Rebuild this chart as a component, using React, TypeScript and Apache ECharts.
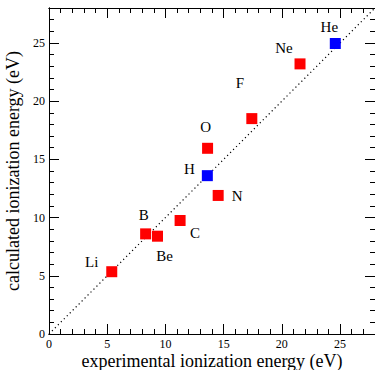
import React, { useEffect, useRef } from "react";
import * as echarts from "echarts";

const elements = ["Li", "B", "Be", "C", "N", "H", "O", "F", "Ne", "He"];
const experimental = [5.39, 8.3, 9.32, 11.26, 14.53, 13.6, 13.62, 17.42, 21.56, 24.59];
const calculated = [5.35, 8.6, 8.4, 9.75, 11.9, 13.6, 15.95, 18.5, 23.2, 24.95];
const markerColors = ["#ff0000", "#ff0000", "#ff0000", "#ff0000", "#ff0000", "#0000ff", "#ff0000", "#ff0000", "#ff0000", "#0000ff"];
const labelOffsets = [[-20, -10], [-2, -19], [7, 20], [15, 13], [19, 1], [-18, -7], [-2, -21], [-12, -36], [-16, -16], [-6, -17]];
const diagonal = [0, 28];
const axisMin = 0;
const axisMax = 28;

const FONT = "Liberation Serif";

function makeAxis(kind: "x" | "y", position: string, interval: number, tickLen: number, labels: boolean, name?: string) {
  const axis: any = {
    type: "value",
    position,
    min: axisMin,
    max: axisMax,
    interval,
    splitLine: { show: false },
    axisLine: { show: true, onZero: false, lineStyle: { color: "#000", width: 1 } },
    axisTick: { show: true, inside: true, length: tickLen, lineStyle: { color: "#000", width: 1 } },
    axisLabel: {
      show: labels,
      color: "#000",
      fontFamily: FONT,
      fontSize: 12,
      margin: 4,
      showMaxLabel: false,
    },
  };
  if (name) {
    axis.name = name;
    axis.nameLocation = "middle";
    axis.nameMoveOverlap = false;
    axis.nameGap = kind === "x" ? 18 : 27;
    axis.nameTextStyle = { color: "#000", fontFamily: FONT, fontSize: 18 };
  }
  return axis;
}

export default function App() {
  const ref = useRef<HTMLDivElement>(null);
  useEffect(() => {
    if (!ref.current) return;
    const chart = echarts.init(ref.current, null, { renderer: "svg" });
    const points = experimental.map((x, i) => ({
      value: [x, calculated[i]],
      name: elements[i],
      itemStyle: { color: markerColors[i], opacity: 1 },
      label: { offset: labelOffsets[i] },
    }));
    chart.setOption({
      animation: false,
      backgroundColor: "#fff",
      grid: { left: 49, right: 0, top: 8, bottom: 36, containLabel: false, outerBoundsMode: "none" },
      xAxis: [
        makeAxis("x", "bottom", 5, 10, true, "experimental ionization energy (eV)"),
        makeAxis("x", "bottom", 1, 5, false),
        makeAxis("x", "top", 5, 10, false),
        makeAxis("x", "top", 1, 5, false),
      ],
      yAxis: [
        makeAxis("y", "left", 5, 10, true, "calculated ionization energy (eV)"),
        makeAxis("y", "left", 1, 5, false),
        makeAxis("y", "right", 5, 10, false),
        makeAxis("y", "right", 1, 5, false),
      ],
      series: [
        {
          type: "line",
          xAxisIndex: 0,
          yAxisIndex: 0,
          data: [[diagonal[0], diagonal[0]], [diagonal[1], diagonal[1]]],
          symbol: "none",
          lineStyle: { color: "#000", width: 1.2, type: [1.2, 3] },
          silent: true,
          z: 1,
        },
        {
          type: "scatter",
          xAxisIndex: 0,
          yAxisIndex: 0,
          symbol: "rect",
          symbolSize: 11,
          data: points,
          label: {
            show: true,
            position: "inside",
            formatter: "{b}",
            color: "#000",
            fontFamily: FONT,
            fontSize: 15,
          },
          z: 3,
        },
      ],
    });
    return () => chart.dispose();
  }, []);
  return (
    <div
      ref={ref}
      style={{ position: "fixed", left: 0, top: 0, width: 375, height: 370, background: "#fff" }}
    />
  );
}
